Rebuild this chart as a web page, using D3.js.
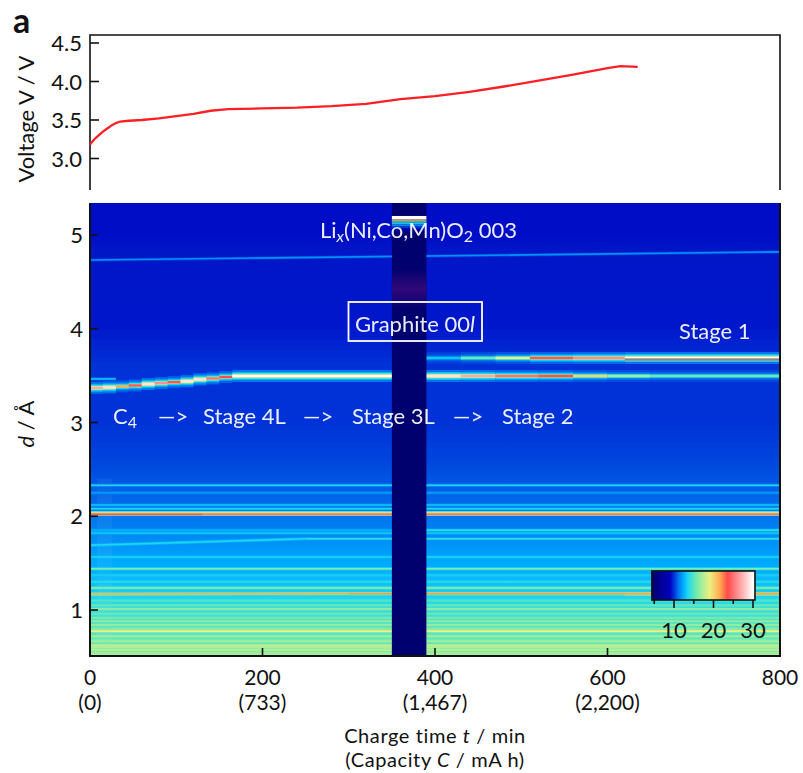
<!DOCTYPE html>
<html>
<head>
<meta charset="utf-8">
<script src="https://cdn.jsdelivr.net/npm/d3@7"></script>
<style>
    html, body { margin: 0; padding: 0; background: #fff; }
    svg { display: block; }
    text { font-family: Lato, "Open Sans", sans-serif; fill: #111; }
    .note { fill: #fff; font-size: 22px; opacity: 0.92; }
</style>
</head>
<body>
<svg id="chart" width="803" height="773"></svg>
<script>
// Voltage curve
const voltageT = [0, 5, 10, 15, 20, 25, 30, 35, 45, 60, 80, 100, 120, 140, 160, 200, 240, 280, 320, 360, 400, 440, 480, 520, 560, 600, 615, 635];
const voltageV = [3.18, 3.25, 3.30, 3.35, 3.39, 3.43, 3.46, 3.48, 3.49, 3.50, 3.52, 3.55, 3.58, 3.62, 3.64, 3.65, 3.66, 3.68, 3.71, 3.77, 3.81, 3.865, 3.935, 4.01, 4.09, 4.175, 4.20, 4.19];

// Map background intensity going down the d axis
const backgroundD = [5.34, 4.5, 4.0, 3.6, 3.0, 2.6, 2.3, 2.1, 1.9, 1.7, 1.55, 1.4, 1.3, 1.2, 1.1, 1.0, 0.9, 0.8, 0.7, 0.6, 0.51];
const backgroundI = [9.3, 9.4, 9.5, 10, 10, 10.3, 10.7, 11, 11.3, 11.8, 12.2, 12.5, 12.8, 13.2, 13.6, 14, 14.4, 14.8, 15.2, 15.6, 16];

// Graphite peak while it moves, one entry per measured step
const graphiteT = [0, 15, 30, 45, 60, 75, 90, 105, 120, 135, 150, 165, 350];
const graphiteD = [3.37, 3.375, 3.385, 3.395, 3.41, 3.42, 3.43, 3.44, 3.46, 3.47, 3.485, 3.496];
const graphiteI = [27, 29, 21.5, 24, 29, 26, 24, 29, 29, 25, 23.6, 30];

// Graphite peaks after the gap
const stageT0 = [390, 430, 470, 510, 560, 620, 390, 430, 470, 520, 560, 600, 650];
const stageT1 = [430, 470, 510, 560, 620, 800, 430, 470, 520, 560, 600, 650, 800];
const stageD = [3.688, 3.688, 3.688, 3.688, 3.688, 3.688, 3.496, 3.496, 3.496, 3.496, 3.496, 3.496, 3.496];
const stageI = [13, 15.5, 19, 24, 26, 30, 29, 27, 25, 23.5, 20, 17, 15.5];

// Thin reflections: start and end time, start and end d, intensity
const lineT0 = [0, 0, 620, 390, 390, 500, 0, 0, 0, 0, 0, 130, 0, 0, 350, 0, 250, 0, 0, 0, 0, 0, 0, 300, 0, 0, 0, 0, 0, 0, 0, 0, 0, 0, 0, 0, 0, 0, 0, 0, 0, 620];
const lineT1 = [800, 30, 800, 800, 800, 800, 800, 800, 800, 800, 800, 800, 130, 800, 800, 800, 800, 250, 800, 800, 800, 800, 800, 800, 300, 800, 800, 800, 800, 800, 800, 800, 800, 800, 800, 800, 800, 800, 800, 800, 800, 800];
const lineD0 = [4.733, 3.465, 3.67, 3.478, 3.515, 3.705, 2.33, 2.25, 2.12, 2.08, 2.04, 2.02, 2.02, 1.85, 1.85, 1.82, 1.76, 1.69, 1.565, 1.44, 1.37, 1.30, 1.235, 1.175, 1.17, 1.10, 1.05, 1.01, 0.96, 0.915, 0.88, 0.84, 0.80, 0.775, 0.72, 0.67, 0.62, 0.60, 0.575, 0.54, 0.52, 1.17];
const lineD1 = [4.82, 3.465, 3.67, 3.478, 3.515, 3.705, 2.33, 2.25, 2.12, 2.08, 2.04, 2.02, 2.02, 1.85, 1.85, 1.82, 1.76, 1.76, 1.565, 1.44, 1.37, 1.30, 1.235, 1.175, 1.175, 1.10, 1.05, 1.01, 0.96, 0.915, 0.88, 0.84, 0.80, 0.775, 0.72, 0.67, 0.62, 0.60, 0.575, 0.54, 0.52, 1.17];
const lineI = [11.8, 13, 24, 13.5, 12.5, 13, 13.4, 12, 13, 13.5, 20, 25, 24, 12.5, 14, 13, 14, 13.5, 13.5, 16, 13.2, 13.8, 16.5, 22, 21.5, 15, 15.5, 17, 15.5, 16, 16.5, 17, 16.5, 19, 17, 17, 18, 17.5, 17.5, 17, 17.5, 21.5];

// Scattering rows inside the gap, near the top
const gapD = [5.203, 5.165, 5.155, 5.144, 5.133, 5.112, 5.09, 5.069, 5.048];
const gapI = [30, 22, 18, 15, 13, 11.5, 10, 8, 6];

// Colour bar
const colorStops = [4.4, 9, 10, 11, 12.3, 13.5, 15.8, 19, 21.6, 23.6, 27.4, 30];
const colorValues = ["#00006e", "#0000be", "#0032d7", "#006eeb", "#00aaff", "#1ed7f0", "#78ebaa", "#ebf082", "#ffaa50", "#ff4b4b", "#ffb4b4", "#ffffff"];
const colorTicksMajor = [10, 20, 30];
const colorTicksMinor = [5, 15, 25];

// Axis ticks
const voltageTicks = [3.0, 3.5, 4.0, 4.5];
const dTicks = [1, 2, 3, 4, 5];
const timeTicks = [0, 200, 400, 600, 800];
const capacityLabels = ["(0)", "(733)", "(1,467)", "(2,200)", ""];

const svg = d3.select("#chart");
const defs = svg.append("defs");

const x = d3.scaleLinear().domain([0, 800]).range([90, 780]);
const yV = d3.scaleLinear().domain([3.0, 4.5]).range([158.5, 43]);
const yD = d3.scaleLinear().domain([5, 1]).range([235, 610]);
const color = d3.scaleLinear().domain(colorStops).range(colorValues).interpolate(d3.interpolateRgb).clamp(true);

const mapTop = 203, mapBottom = 656;
const panelTop = 35, panelBottom = 190;

// Background intensity at a given d (nearest listed row)
function backgroundAt(d) {
    const i = d3.bisector(v => -v).left(backgroundD, -d);
    return backgroundI[Math.min(i, backgroundI.length - 1)];
}

// Heat map background, top to bottom
const bgGradient = defs.append("linearGradient")
    .attr("id", "bg-gradient")
    .attr("gradientUnits", "userSpaceOnUse")
    .attr("x1", 0).attr("x2", 0)
    .attr("y1", mapTop).attr("y2", mapBottom);
bgGradient.selectAll("stop")
    .data(backgroundD)
    .join("stop")
    .attr("offset", d => (yD(d) - mapTop) / (mapBottom - mapTop))
    .attr("stop-color", (d, i) => color(backgroundI[i]));

defs.append("filter").attr("id", "soft")
    .append("feGaussianBlur").attr("stdDeviation", 0.5);
defs.append("clipPath").attr("id", "map-clip")
    .append("rect")
    .attr("x", x(0)).attr("y", mapTop)
    .attr("width", x(800) - x(0)).attr("height", mapBottom - mapTop);

const map = svg.append("g").attr("clip-path", "url(#map-clip)");
const soft = map.append("g").attr("filter", "url(#soft)");

soft.append("rect")
    .attr("x", x(0)).attr("y", mapTop - 2)
    .attr("width", x(800) - x(0)).attr("height", mapBottom - mapTop + 4)
    .attr("fill", "url(#bg-gradient)");

// Slightly lighter first scans at the left edge
soft.append("rect")
    .attr("x", x(8)).attr("y", yD(2.4))
    .attr("width", x(26) - x(8)).attr("height", mapBottom - yD(2.4))
    .attr("fill", "#fff").attr("opacity", 0.05);

// A peak is drawn as nested strokes, from the wide halo to the core
const wideProfile = [[12, 0.06], [8, 0.14], [5.5, 0.25], [3.6, 0.5], [2.4, 1]];
const thinProfile = [[3.2, 0.3], [1.6, 1]];

function drawSegments(segments, profile) {
    profile.forEach(([w, f]) => {
        soft.append("g").selectAll("path")
            .data(segments)
            .join("path")
            .attr("fill", "none")
            .attr("stroke-width", w)
            .attr("stroke", s => {
                const base = backgroundAt(s.d0);
                return color(base + f * (s.v - base));
            })
            .attr("d", s => d3.line()([[x(s.t0), yD(s.d0)], [x(s.t1), yD(s.d1)]]));
    });
}

const thinSegments = lineI.map((v, i) => ({ t0: lineT0[i], t1: lineT1[i], d0: lineD0[i], d1: lineD1[i], v }));
const graphiteSegments = graphiteI.map((v, i) => ({ t0: graphiteT[i], t1: graphiteT[i + 1], d0: graphiteD[i], d1: graphiteD[i], v }));
const stageSegments = stageI.map((v, i) => ({ t0: stageT0[i], t1: stageT1[i], d0: stageD[i], d1: stageD[i], v }));

// The halos of the graphite peaks sit under their cores
drawSegments(thinSegments.slice(3, 6), thinProfile);
drawSegments(graphiteSegments.concat(stageSegments), wideProfile);
drawSegments(thinSegments.slice(0, 3).concat(thinSegments.slice(6)), thinProfile);

// Gap in the measurement
map.append("rect")
    .attr("x", x(350)).attr("y", mapTop)
    .attr("width", x(390) - x(350)).attr("height", mapBottom - mapTop)
    .attr("fill", color(4.4));
const purple = defs.append("linearGradient")
    .attr("id", "gap-purple").attr("x1", 0).attr("x2", 0).attr("y1", 0).attr("y2", 1);
purple.append("stop").attr("offset", 0).attr("stop-color", "#30087a").attr("stop-opacity", 0);
purple.append("stop").attr("offset", 0.5).attr("stop-color", "#30087a");
purple.append("stop").attr("offset", 1).attr("stop-color", "#30087a").attr("stop-opacity", 0);
map.append("rect")
    .attr("x", x(350)).attr("y", yD(4.65))
    .attr("width", x(390) - x(350)).attr("height", yD(4.2) - yD(4.65))
    .attr("fill", "url(#gap-purple)");
map.selectAll(".gap-row")
    .data(gapD)
    .join("rect")
    .attr("class", "gap-row")
    .attr("x", x(350))
    .attr("y", d => yD(d))
    .attr("width", x(390) - x(350))
    .attr("height", (d, i) => yD(gapD[i + 1] === undefined ? d - 0.02 : gapD[i + 1]) - yD(d))
    .attr("fill", (d, i) => color(gapI[i]));

// Frame and axes
const axisColor = "#111";
const axisWidth = 1.6;

svg.append("path")
    .attr("d", d3.line()([[x(0), panelBottom], [x(0), panelTop], [x(800), panelTop], [x(800), panelBottom]]))
    .attr("fill", "none").attr("stroke", axisColor).attr("stroke-width", axisWidth);

svg.append("path")
    .datum(voltageT)
    .attr("fill", "none")
    .attr("stroke", "#fb1f26")
    .attr("stroke-width", 2.3)
    .attr("d", d3.line().x(t => x(t)).y((t, i) => yV(voltageV[i])));

function drawTicks(scale, ticks, vertical, origin, length) {
    svg.append("g").selectAll("line")
        .data(ticks)
        .join("line")
        .attr("x1", t => vertical ? origin : scale(t))
        .attr("x2", t => vertical ? origin + length : scale(t))
        .attr("y1", t => vertical ? scale(t) : origin)
        .attr("y2", t => vertical ? scale(t) : origin + length)
        .attr("stroke", axisColor).attr("stroke-width", axisWidth);
}

drawTicks(yV, voltageTicks, true, x(0), 9);
drawTicks(yD, dTicks, true, x(0), 8);
drawTicks(x, timeTicks, false, mapBottom, -8);

svg.append("path")
    .attr("d", d3.line()([[x(0), mapTop], [x(0), mapBottom], [x(800), mapBottom], [x(800), mapTop]]))
    .attr("fill", "none").attr("stroke", axisColor).attr("stroke-width", 2);

// Tick labels
svg.append("g").selectAll("text")
    .data(voltageTicks)
    .join("text")
    .attr("x", 82).attr("y", t => yV(t) + 8)
    .attr("text-anchor", "end").attr("font-size", 22)
    .text(d3.format(".1f"));
svg.append("g").selectAll("text")
    .data(dTicks)
    .join("text")
    .attr("x", 83).attr("y", t => yD(t) + 8)
    .attr("text-anchor", "end").attr("font-size", 22)
    .text(t => t);
svg.append("g").selectAll("text")
    .data(timeTicks)
    .join("text")
    .attr("x", t => x(t)).attr("y", 685)
    .attr("text-anchor", "middle").attr("font-size", 21)
    .text(t => t);
svg.append("g").selectAll("text")
    .data(capacityLabels)
    .join("text")
    .attr("x", (c, i) => x(timeTicks[i])).attr("y", 710)
    .attr("text-anchor", "middle").attr("font-size", 21)
    .text(c => c);

// Axis titles
svg.append("text")
    .attr("x", 13).attr("y", 33)
    .attr("font-size", 34).attr("font-weight", 700)
    .text("a");
svg.append("text")
    .attr("transform", "translate(34,119) rotate(-90)")
    .attr("text-anchor", "middle").attr("font-size", 22)
    .text("Voltage V / V");
const dTitle = svg.append("text")
    .attr("transform", "translate(34,424) rotate(-90)")
    .attr("text-anchor", "middle").attr("font-size", 22);
dTitle.append("tspan").attr("font-style", "italic").text("d");
dTitle.append("tspan").text(" / Å");

// Two separate lines, kept just far enough apart not to touch
const xTitle1 = svg.append("text")
    .attr("x", 435).attr("y", 743)
    .attr("text-anchor", "middle").attr("font-size", 20).attr("letter-spacing", 0.6);
xTitle1.append("tspan").text("Charge time ");
xTitle1.append("tspan").attr("font-style", "italic").text("t");
xTitle1.append("tspan").text(" / min");
const xTitle2 = svg.append("text")
    .attr("x", 435).attr("y", 767)
    .attr("text-anchor", "middle").attr("font-size", 20).attr("letter-spacing", 0.6);
xTitle2.append("tspan").text("(Capacity ");
xTitle2.append("tspan").attr("font-style", "italic").text("C");
xTitle2.append("tspan").text(" / mA h)");

// Notes on the map
const liNote = svg.append("text").attr("class", "note")
    .attr("x", 320).attr("y", 238);
liNote.append("tspan").text("Li");
liNote.append("tspan").attr("font-style", "italic").attr("font-size", 16).attr("dy", 4).text("x");
liNote.append("tspan").attr("dy", -4).text("(Ni,Co,Mn)O");
liNote.append("tspan").attr("font-size", 16).attr("dy", 4).text("2");
liNote.append("tspan").attr("dy", -4).text(" 003");

svg.append("rect")
    .attr("x", 348.5).attr("y", 302)
    .attr("width", 133.5).attr("height", 39)
    .attr("fill", "none").attr("stroke", "#fff").attr("stroke-width", 1.8);
const graphiteNote = svg.append("text").attr("class", "note")
    .attr("x", 415).attr("y", 332).attr("text-anchor", "middle");
graphiteNote.append("tspan").text("Graphite 00");
graphiteNote.append("tspan").attr("font-style", "italic").text("l");

svg.append("text").attr("class", "note").attr("x", 679).attr("y", 339).text("Stage 1");

const c4Note = svg.append("text").attr("class", "note").attr("x", 113).attr("y", 424);
c4Note.append("tspan").text("C");
c4Note.append("tspan").attr("font-size", 16).attr("dy", 4).text("4");

const stageNames = ["—>", "Stage 4L", "—>", "Stage 3L", "—>", "Stage 2"];
const stageNoteX = [158, 203, 303, 352, 453, 502];
svg.append("g").selectAll("text")
    .data(stageNames)
    .join("text")
    .attr("class", "note")
    .attr("x", (s, i) => stageNoteX[i]).attr("y", 424)
    .text(s => s);

// Colour bar
const barScale = d3.scaleLinear().domain([10, 30]).range([674, 753]);
const barLeft = barScale(4.4), barRight = barScale(30.5), barTop = 571, barBottom = 600;
const barGradient = defs.append("linearGradient")
    .attr("id", "bar-gradient")
    .attr("gradientUnits", "userSpaceOnUse")
    .attr("x1", barLeft).attr("x2", barRight).attr("y1", 0).attr("y2", 0);
barGradient.selectAll("stop")
    .data(colorStops)
    .join("stop")
    .attr("offset", v => (barScale(v) - barLeft) / (barRight - barLeft))
    .attr("stop-color", (v, i) => colorValues[i]);
svg.append("rect")
    .attr("x", barLeft).attr("y", barTop)
    .attr("width", barRight - barLeft).attr("height", barBottom - barTop)
    .attr("fill", "url(#bar-gradient)")
    .attr("stroke", axisColor).attr("stroke-width", axisWidth);
drawTicks(barScale, colorTicksMajor, false, barBottom, 8);
drawTicks(barScale, colorTicksMinor, false, barBottom, 4);
svg.append("g").selectAll("text")
    .data(colorTicksMajor)
    .join("text")
    .attr("x", v => barScale(v)).attr("y", 638)
    .attr("text-anchor", "middle").attr("font-size", 22)
    .text(v => v);
</script>
</body>
</html>
